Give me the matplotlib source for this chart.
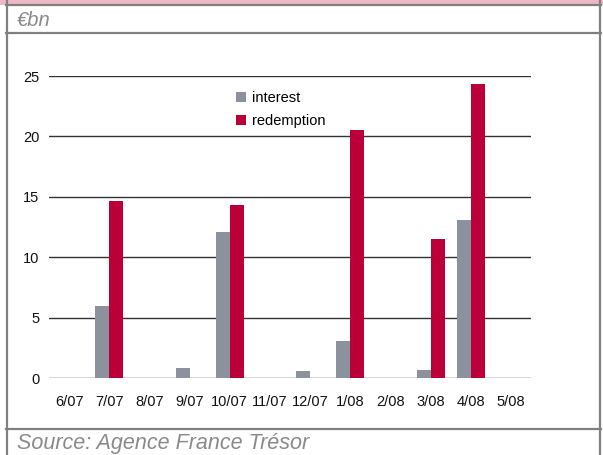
import matplotlib
matplotlib.use("Agg")
import matplotlib.pyplot as plt
from matplotlib.lines import Line2D
from matplotlib.patches import Rectangle
import numpy as np

# data, in EUR bn
months = ["6/07", "7/07", "8/07", "9/07", "10/07", "11/07",
          "12/07", "1/08", "2/08", "3/08", "4/08", "5/08"]
interest = [0, 6.0, 0, 0.85, 12.1, 0, 0.55, 3.05, 0, 0.65, 13.1, 0]
redemption = [0, 14.65, 0, 0, 14.3, 0, 0, 20.5, 0, 11.5, 24.3, 0]

grey = "#8c919e"
red = "#bb0039"
frame = "#808080"

plt.rcParams["font.family"] = ["Liberation Sans", "DejaVu Sans"]

fig = plt.figure(figsize=(6.03, 4.55), dpi=100)
W, H = 603.0, 455.0

def fx(px):
    return px / W

def fy(py):
    return 1 - py / H

# frame around the chart
fig.add_artist(Rectangle((0, fy(4.5)), 1, 4.5 / H, transform=fig.transFigure,
                         facecolor="#efb6c6", edgecolor="none"))
for y in [5, 32.5, 428.5]:
    fig.add_artist(Line2D([fx(6), fx(601)], [fy(y), fy(y)], transform=fig.transFigure,
                          color=frame, lw=1.6))
for x in [6.8, 600]:
    fig.add_artist(Line2D([fx(x), fx(x)], [0, 1], transform=fig.transFigure,
                          color=frame, lw=1.6))

fig.text(fx(17), fy(20), "€bn", style="italic",
         fontsize=14.5, color="#8a8a8a", va="center", ha="left")
fig.text(fx(17), fy(443), "Source: Agence France Trésor",
         style="italic", fontsize=15.5, color="#8a8a8a", va="center", ha="left")

ax = fig.add_axes([fx(49), fy(378), 482 / W, 302 / H])
x = np.arange(len(months))
w = 0.35
ax.bar(x - w / 2, interest, w, color=grey, label="interest", zorder=3)
ax.bar(x + w / 2, redemption, w, color=red, label="redemption", zorder=3)

ax.set_xlim(-0.5, len(months) - 0.5)
ax.set_ylim(0, 25)
ax.set_yticks([0, 5, 10, 15, 20, 25])
ax.set_xticks(x)
ax.set_xticklabels(months)
ax.grid(axis="y", color="#333333", lw=1, zorder=1)
ax.set_axisbelow(True)
for s in ax.spines.values():
    s.set_visible(False)
ax.tick_params(axis="both", length=0, labelsize=10.5, colors="#111111")
ax.tick_params(axis="x", pad=12)
ax.tick_params(axis="y", pad=7)

ax.legend(loc="upper left", bbox_to_anchor=(fx(236), fy(91)),
          bbox_transform=fig.transFigure, frameon=False, fontsize=10.5,
          handlelength=0.7, handleheight=0.7, handletextpad=0.4,
          labelspacing=0.65, borderaxespad=0, borderpad=0)

fig.savefig("out.png", dpi=100)
